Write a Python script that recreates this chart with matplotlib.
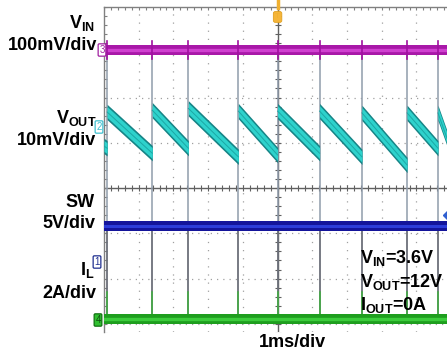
import numpy as np
import matplotlib
matplotlib.use('Agg')
import matplotlib.pyplot as plt

plt.rcParams['font.family'] = ['Liberation Sans', 'DejaVu Sans']
plt.rcParams['mathtext.fontset'] = 'custom'
plt.rcParams['mathtext.rm'] = 'Liberation Sans:bold'
plt.rcParams['mathtext.it'] = 'Liberation Sans:bold'
plt.rcParams['mathtext.bf'] = 'Liberation Sans:bold'

# switching events (ms), and Vout levels (div) right after / before each event
pulse_t = [0.09, 1.39, 2.43, 3.87, 5.00, 6.21, 7.43, 8.73, 9.62]
vout_start = [1.68, 1.72, 1.76, 1.70, 1.70, 1.70, 1.66, 1.66, 1.66]
vout_end = [0.88, 0.77, 0.88, 0.69, 0.73, 0.77, 0.69, 0.51, 0.88, 1.10]
t_end = 9.88

vin_level = 3.05
sw_level = -0.84
il_level = -2.90

fig = plt.figure(figsize=(4.47, 3.53), dpi=100)
W, H = 447, 353
ax = fig.add_axes([104 / W, (H - 332) / H, (W - 104) / W, (332 - 7) / H])
ax.set_xlim(0, t_end)
ax.set_ylim(-3.18, 4.0)
ax.set_xticks([])
ax.set_yticks([])
for s in ['bottom', 'right']:
    ax.spines[s].set_visible(False)
for s in ['top', 'left']:
    ax.spines[s].set_color('#808080')
    ax.spines[s].set_linewidth(1.0)

# graticule
gcol = '#a0a0a0'
for gx in range(1, 10):
    if gx != 5:
        ax.axvline(gx, color=gcol, lw=0.9, ls=(0, (1, 5.5)), zorder=1)
for gy in range(-3, 4):
    if gy != 0:
        ax.axhline(gy, color=gcol, lw=0.9, ls=(0, (1, 4)), zorder=1)
ax.axhline(0, color='#606060', lw=1.0, zorder=1)
ax.axvline(5, color='#606060', lw=1.0, zorder=1)
sub_x = np.arange(0, 10, 0.2)
sub_y = np.arange(-3.2, 4.01, 0.2)
ax.plot(sub_x, np.zeros_like(sub_x), ls='', marker='|', ms=4, mew=0.8, color='#606060', zorder=1)
ax.plot(np.full_like(sub_y, 5.0), sub_y, ls='', marker='_', ms=4, mew=0.8, color='#606060', zorder=1)
ax.plot(sub_x, np.full_like(sub_x, 4.0), ls='', marker='|', ms=4, mew=0.8, color='#808080', zorder=1)
ax.plot(np.zeros_like(sub_y), sub_y, ls='', marker='_', ms=4, mew=0.8, color='#808080', zorder=1)

# switching edges
for t in pulse_t:
    ax.plot([t, t], [il_level, sw_level], color='#6c707a', lw=1.3, zorder=2)
    ax.plot([t, t], [sw_level, vin_level], color='#909cab', lw=1.1, zorder=2)
    ax.plot([t, t], [il_level, il_level + 0.6], color='#40b040', lw=1.1, zorder=3)
    ax.plot([t, t], [vin_level - 0.2, vin_level + 0.2], color='#a010a0', lw=1.2, zorder=4)

# VIN
ax.fill_between([0, t_end], vin_level - 0.11, vin_level + 0.11, color='#a818a8', lw=0, zorder=3)
ax.plot([0, t_end], [vin_level, vin_level], color='#d040d0', lw=2.4, zorder=3)

# VOUT sawtooth
starts = [0] + pulse_t
levels0 = [vout_end[0]] + vout_start
ends = pulse_t + [t_end]
for i in range(len(starts)):
    if i == 0:
        xs = [starts[0], ends[0]]
        ys = [vout_end[0] + 0.05, vout_end[0]]
    else:
        xs = [starts[i], ends[i]]
        ys = [levels0[i], vout_end[i]]
    ys = np.array(ys)
    ax.fill_between(xs, ys - 0.17, ys + 0.17, color='#168486', lw=0, zorder=3)
    ax.fill_between(xs, ys - 0.12, ys + 0.12, color='#2ed2cc', lw=0, zorder=3)
    ax.plot(xs, ys, color='#1ca8a6', lw=0.7, zorder=3)

# SW
ax.fill_between([0, t_end], sw_level - 0.11, sw_level + 0.11, color='#14149a', lw=0, zorder=3)
ax.plot([0, t_end], [sw_level, sw_level], color='#2c3cd8', lw=2.2, zorder=3)

# IL
ax.fill_between([0, t_end], il_level - 0.11, il_level + 0.11, color='#1e9e1e', lw=0, zorder=3)
ax.plot([0, t_end], [il_level, il_level], color='#3ccc3c', lw=2.4, zorder=3)

# trigger marker and channel markers
ax.plot([5.0, 5.0], [3.98, 4.15], color='#f0b030', lw=2.5, clip_on=False, zorder=5)
ax.text(5.0, 3.78, 'T', fontsize=5.5, color='#f0b030', ha='center', va='center', zorder=5,
        bbox=dict(boxstyle='round,pad=0.25', fc='#f5b53a', ec='#e0a020', lw=0.6))
ax.plot([9.92], [-0.6], marker='D', ms=5, color='#3060d0', clip_on=False, zorder=5)

def chmark(x, y, s, ec, fc, tc):
    fig.text(x / W, 1 - y / H, s, fontsize=7, color=tc, ha='center', va='center', zorder=6,
             bbox=dict(boxstyle='round,pad=0.12', fc=fc, ec=ec, lw=0.9))

chmark(102, 50, '3', '#a020a0', 'white', '#a020a0')
chmark(99, 127, '2', '#40c0d0', 'white', '#40c0d0')
chmark(97, 262, '1', '#203090', 'white', '#203090')
chmark(98, 320, '4', '#107010', '#30c030', '#105010')

# labels
fs = 13
def lab(x, y, s, ha='right'):
    fig.text(x / W, 1 - y / H, s, fontsize=fs, fontweight='bold', ha=ha, va='baseline')

lab(95, 28, r'$\mathrm{V_{IN}}$')
lab(97, 50, '100mV/div')
lab(97, 123, r'$\mathrm{V_{OUT}}$')
lab(96, 145, '10mV/div')
lab(95, 207, 'SW')
lab(95, 228, '5V/div')
lab(95, 275, r'$\mathrm{I_{L}}$')
lab(96, 298, '2A/div')
lab(360, 263, r'$\mathrm{V_{IN}}$=3.6V', ha='left')
lab(360, 287, r'$\mathrm{V_{OUT}}$=12V', ha='left')
lab(360, 310, r'$\mathrm{I_{OUT}}$=0A', ha='left')
lab(292, 347, '1ms/div', ha='center')

plt.savefig('out.png', dpi=100)
